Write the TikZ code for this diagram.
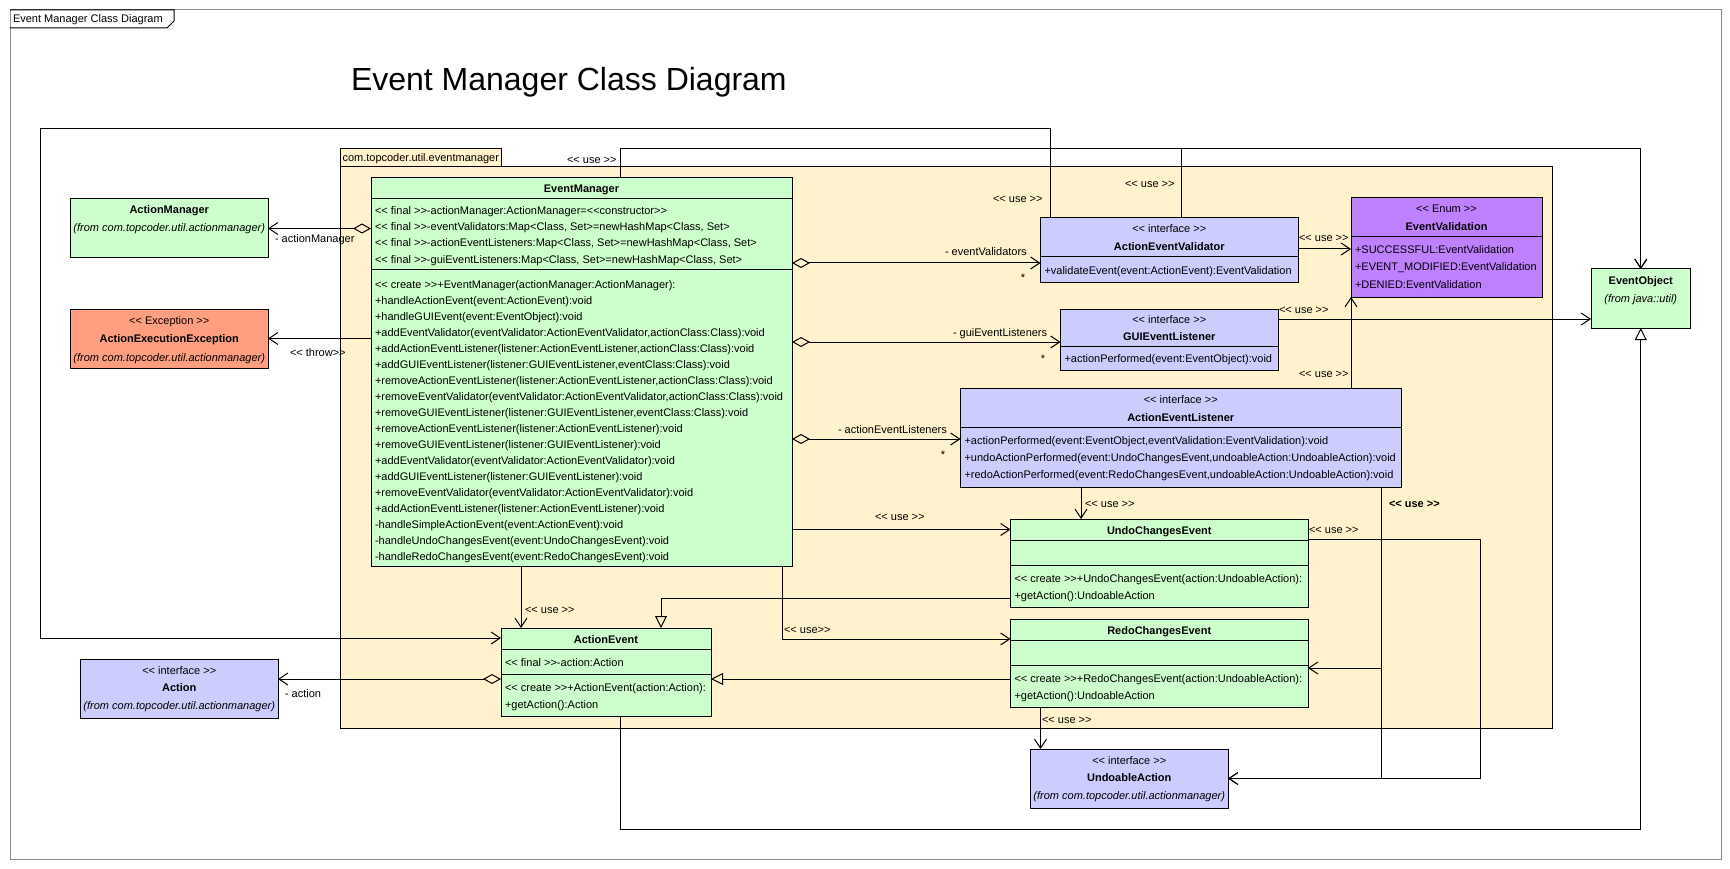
\documentclass[tikz,border=0pt]{standalone}
\usepackage{fontspec}
\newfontfamily\umlfont{Liberation Sans}
\usetikzlibrary{arrows.meta}

\begin{document}
\begin{tikzpicture}[x=1pt,y=-1pt,
    every node/.style={font=\umlfont\fontsize{11pt}{13pt}\selectfont, inner sep=0pt, outer sep=0pt},
    cls/.style={draw, line width=1pt, anchor=north west},
    row/.style={anchor=west, xshift=4pt, text height=8pt, text depth=0pt},
    crow/.style={anchor=center, text height=8pt, text depth=0pt},
    lbl/.style={anchor=west, text height=8pt, text depth=0pt},
    conn/.style={line width=1pt},
    dep/.style={conn, -{Straight Barb[length=9pt,width=12pt]}},
    agg/.style={conn, {Diamond[open,length=18pt,width=10pt]}-{Straight Barb[length=9pt,width=12pt]}},
    gen/.style={conn, -{Triangle[open,length=12pt,width=12pt]}}]
  \definecolor{kGreen}{rgb}{0.8,1,0.8}
  \definecolor{kLilac}{rgb}{0.8,0.8,1}
  \definecolor{kPurple}{rgb}{0.75,0.5,1}
  \definecolor{kSalmon}{rgb}{1,0.62,0.5}
  \definecolor{kCream}{rgb}{1,0.95,0.8}
  \definecolor{kGrey}{rgb}{0.55,0.55,0.55}

  \useasboundingbox (0,0) rectangle (1730,869);

  % frame and title
  \node[draw=kGrey, line width=1pt, anchor=north west, minimum width=1711pt, minimum height=849pt] (frame) at (10,10) {};
  \draw[line width=1pt] (frame.north west) -- ++(164,0) -- ++(0,11) -- ++(-7,7) -- ++(-157,0);
  \node[lbl] (frameName) at (13,19) {Event Manager Class Diagram};
  \node[anchor=base west, font=\umlfont\fontsize{32pt}{38pt}\selectfont] (title) at (351,91) {Event Manager Class Diagram};

  % package
  \node[cls, fill=kCream, minimum width=1211.5pt, minimum height=561pt] (pkg) at (340.5,167) {};
  \node[draw, line width=1pt, fill=kCream, anchor=south west, minimum width=160.5pt, minimum height=18pt] (pkgTab) at (pkg.north west) {};
  \node[row, xshift=-2pt] (pkgName) at (pkgTab.west) {com.topcoder.util.eventmanager};

  % class boxes
  \foreach \n/\xa/\ya/\xb/\yb/\col in {
      am/70.5/199/268/258/kGreen, aee/70.5/309/268/368/kSalmon,
      act/80.5/659/278/718/kLilac, em/371/178/792/566/kGreen,
      ae/501/628/711/716/kGreen, aev/1040.5/218/1298/282/kLilac,
      gel/1060.5/309/1278/370/kLilac, ael/960.5/388/1401/487/kLilac,
      uce/1010.5/519/1308/607/kGreen, rce/1010.5/619/1308/707/kGreen,
      ua/1030.5/749/1228/808/kLilac, ev/1351/198/1542/297/kPurple,
      eo/1591/269/1690.5/328/kGreen}
    \node[cls, fill=\col, minimum width={(\xb-\xa)*1pt}, minimum height={(\yb-\ya)*1pt}] (\n) at (\xa,\ya) {};

  \foreach \n/\y in {em/199, em/270, ae/649, ae/674, aev/257, gel/346, ael/427,
                     uce/540, uce/565, rce/640, rce/665, ev/237}
    \draw[line width=1pt] (\n.west |- 0,\y) -- (\n.east |- 0,\y);

  % names, stereotypes
  \foreach \n/\y/\txt in {
      am/210/{\textbf{ActionManager}}, am/228/{\textit{(from com.topcoder.util.actionmanager)}},
      aee/320/{<< Exception >>}, aee/338/{\textbf{ActionExecutionException}},
      aee/357/{\textit{(from com.topcoder.util.actionmanager)}},
      act/670/{<< interface >>}, act/687/{\textbf{Action}},
      act/705/{\textit{(from com.topcoder.util.actionmanager)}},
      em/189/{\textbf{EventManager}}, ae/639/{\textbf{ActionEvent}},
      aev/229/{<< interface >>}, aev/247/{\textbf{ActionEventValidator}},
      gel/319/{<< interface >>}, gel/336/{\textbf{GUIEventListener}},
      ael/399/{<< interface >>}, ael/417/{\textbf{ActionEventListener}},
      uce/530/{\textbf{UndoChangesEvent}}, rce/630/{\textbf{RedoChangesEvent}},
      ua/760/{<< interface >>}, ua/777/{\textbf{UndoableAction}},
      ua/795/{\textit{(from com.topcoder.util.actionmanager)}},
      ev/209/{<< Enum >>}, ev/227/{\textbf{EventValidation}},
      eo/280/{\textbf{EventObject}}, eo/298/{\textit{(from java::util)}}}
    \node[crow] (\n\y) at (\n.center |- 0,\y) {\txt};

  % members
  \foreach \n/\y/\txt in {
      ae/662/{<< final >>-action:Action},
      ae/687/{<< create >>+ActionEvent(action:Action):}, ae/704/{+getAction():Action},
      aev/270/{+validateEvent(event:ActionEvent):EventValidation},
      gel/358/{+actionPerformed(event:EventObject):void},
      ael/440/{+actionPerformed(event:EventObject,eventValidation:EventValidation):void},
      ael/457/{+undoActionPerformed(event:UndoChangesEvent,undoableAction:UndoableAction):void},
      ael/474/{+redoActionPerformed(event:RedoChangesEvent,undoableAction:UndoableAction):void},
      uce/578/{<< create >>+UndoChangesEvent(action:UndoableAction):},
      uce/595/{+getAction():UndoableAction},
      rce/678/{<< create >>+RedoChangesEvent(action:UndoableAction):},
      rce/695/{+getAction():UndoableAction},
      ev/250/{+SUCCESSFUL:EventValidation}, ev/267/{+EVENT\_MODIFIED:EventValidation},
      ev/284/{+DENIED:EventValidation}}
    \node[row] (\n\y) at (\n.west |- 0,\y) {\txt};

  \foreach \txt [count=\i, evaluate=\i as \yy using 195+16*\i] in {
      {<< final >>-actionManager:ActionManager=<<constructor>>},
      {<< final >>-eventValidators:Map<Class, Set>=newHashMap<Class, Set>},
      {<< final >>-actionEventListeners:Map<Class, Set>=newHashMap<Class, Set>},
      {<< final >>-guiEventListeners:Map<Class, Set>=newHashMap<Class, Set>}}
    \node[row] (emA\i) at (em.west |- 0,\yy) {\txt};

  \foreach \txt [count=\i, evaluate=\i as \yy using 268+16*\i] in {
      {<< create >>+EventManager(actionManager:ActionManager):},
      {+handleActionEvent(event:ActionEvent):void},
      {+handleGUIEvent(event:EventObject):void},
      {+addEventValidator(eventValidator:ActionEventValidator,actionClass:Class):void},
      {+addActionEventListener(listener:ActionEventListener,actionClass:Class):void},
      {+addGUIEventListener(listener:GUIEventListener,eventClass:Class):void},
      {+removeActionEventListener(listener:ActionEventListener,actionClass:Class):void},
      {+removeEventValidator(eventValidator:ActionEventValidator,actionClass:Class):void},
      {+removeGUIEventListener(listener:GUIEventListener,eventClass:Class):void},
      {+removeActionEventListener(listener:ActionEventListener):void},
      {+removeGUIEventListener(listener:GUIEventListener):void},
      {+addEventValidator(eventValidator:ActionEventValidator):void},
      {+addGUIEventListener(listener:GUIEventListener):void},
      {+removeEventValidator(eventValidator:ActionEventValidator):void},
      {+addActionEventListener(listener:ActionEventListener):void},
      {-handleSimpleActionEvent(event:ActionEvent):void},
      {-handleUndoChangesEvent(event:UndoChangesEvent):void},
      {-handleRedoChangesEvent(event:RedoChangesEvent):void}}
    \node[row] (emM\i) at (em.west |- 0,\yy) {\txt};

  % connector ends
  \coordinate (railL) at (620.5,149);
  \coordinate (loopTL) at (40,129);
  \coordinate (aevIn) at ([yshift=-13pt]aev.west);
  \coordinate (gelIn) at ([yshift=-2.5pt]gel.west);
  \coordinate (aelIn) at ([yshift=-1.5pt]ael.west);
  \coordinate (actIn) at ([yshift=-20pt]act.north east);
  \coordinate (aevTopA) at ([xshift=10pt]aev.north west);
  \coordinate (aevTopB) at ([xshift=140.5pt]aev.north west);
  \coordinate (aeIn) at ([yshift=-10pt]ae.north west);
  \coordinate (aeTop) at ([xshift=20pt]ae.north west);
  \coordinate (aeGen) at ([xshift=160pt]ae.north west);
  \coordinate (aeBot) at ([xshift=119.5pt]ae.south west);
  \coordinate (evIn) at ([yshift=-51pt]ev.north west);
  \coordinate (eoIn) at ([yshift=-50pt]eo.north west);
  \coordinate (uceTop) at ([xshift=70.5pt]uce.north west);
  \coordinate (uceIn) at ([yshift=-10.5pt]uce.north west);
  \coordinate (uceOut) at ([yshift=-20pt]uce.north east);
  \coordinate (uceGen) at ([yshift=-79pt]uce.north west);
  \coordinate (aelLow) at ([xshift=-20pt]ael.south east);
  \coordinate (rceIn) at ([yshift=-20pt]rce.north west);
  \coordinate (rceOut) at ([yshift=-5pt]rce.east);
  \coordinate (rceGen) at ([yshift=-60pt]rce.north west);
  \coordinate (uaTop) at ([xshift=10pt]ua.north west);
  \coordinate (emLow) at ([xshift=-10pt]em.south east);

  % aggregations
  \draw[agg] (em.west |- am.east) -- (am.east);
  \draw[agg] (em.east |- aevIn) -- (aevIn);
  \draw[agg] (em.east |- gelIn) -- (gelIn);
  \draw[agg] (em.east |- aelIn) -- (aelIn);
  \draw[agg] (ae.west |- actIn) -- (actIn);

  % dependencies
  \draw[dep] (em.west |- aee.east) -- (aee.east);
  \draw[dep] (em.north -| railL) -- (railL) -| (eo.north);
  \draw[dep] (aevTopA) |- (loopTL) |- (aeIn);
  \draw[dep] (aevTopB) -- (aevTopB |- railL) -| (eo.north);
  \draw[dep] (aev.east |- evIn) -- (evIn);
  \draw[dep] (gel.east |- eoIn) -- (eoIn);
  \draw[dep] (ael.north -| ev.south west) -- (ev.south west);
  \draw[dep] (ael.south -| uceTop) -- (uceTop);
  \draw[dep] (aelLow) |- (rceOut);
  \draw[dep] (aelLow) |- (ua.east);
  \draw[dep] (uceOut) -- ++(172.5,0) |- (ua.east);
  \draw[dep] (rce.south -| uaTop) -- (uaTop);
  \draw[dep] (em.east |- uceIn) -- (uceIn);
  \draw[dep] (emLow) |- (rceIn);
  \draw[dep] (em.south -| aeTop) -- (aeTop);

  % generalizations
  \draw[gen] (uceGen) -| (aeGen);
  \draw[gen] (rceGen) -- (ae.east |- rceGen);
  \draw[gen] (aeBot) -- ++(0,113) -| (eo.south);

  % connector labels
  \node[lbl] (lAm) at (275,239) {- actionManager};
  \node[lbl] (lThrow) at (290,352) {<< throw>>};
  \node[lbl] (lAct) at (285,693) {- action};
  \node[lbl] (lEv) at (945,252) {- eventValidators};
  \node[lbl] (lGel) at (953,332) {- guiEventListeners};
  \node[lbl] (lAel) at (838,429) {- actionEventListeners};
  \node[crow] (sEv) at (1023,277) {*};
  \node[crow] (sGel) at (1043,358) {*};
  \node[crow] (sAel) at (943,454) {*};
  \node[lbl] (uEmEo) at (567,160) {<< use >>};
  \node[lbl] (uAevAe) at (993,199) {<< use >>};
  \node[lbl] (uAevEo) at (1125,184) {<< use >>};
  \node[lbl] (uAevEv) at (1299,238) {<< use >>};
  \node[lbl] (uGelEo) at (1279,309) {<< use >>};
  \node[lbl] (uAelEv) at (1299,373) {<< use >>};
  \node[lbl] (uAelUce) at (1085,503) {<< use >>};
  \node[lbl] (uAelRce) at (1389,503) {\textbf{<< use >>}};
  \node[lbl] (uEmUce) at (875,516) {<< use >>};
  \node[lbl] (uUceUa) at (1309,529) {<< use >>};
  \node[lbl] (uEmAe) at (525,609) {<< use >>};
  \node[lbl] (uEmRce) at (784,629) {<< use>>};
  \node[lbl] (uRceUa) at (1042,719) {<< use >>};
\end{tikzpicture}
\end{document}
